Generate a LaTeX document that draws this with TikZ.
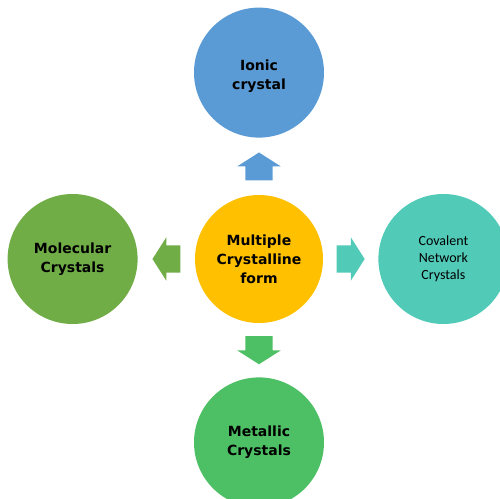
\documentclass[tikz,border=0pt]{standalone}
\usepackage{fontspec}
\setmainfont{DejaVu Sans}
\newfontfamily\calfont{Carlito}
\usepackage{xcolor}
\usetikzlibrary{positioning, shapes.arrows}

\definecolor{ionicblue}{HTML}{5B9BD5}
\definecolor{coreorange}{HTML}{FFC000}
\definecolor{covteal}{HTML}{52CAB8}
\definecolor{metalgreen}{HTML}{4DBF64}
\definecolor{molgreen}{HTML}{70AD47}

\begin{document}
\begin{tikzpicture}[
    node distance=57pt,
    bubble/.style={circle, minimum size=130pt, inner sep=0pt, align=center,
        font=\bfseries\fontsize{14}{19}\selectfont},
    blockarrow/.style={single arrow, minimum height=28pt, minimum width=43pt,
        inner xsep=0pt, inner ysep=13.5pt, single arrow head extend=8pt,
        single arrow tip angle=115}
]
    \clip (-259pt,-239pt) rectangle (241pt,259pt);
    \node (core) [bubble, fill=coreorange, minimum size=128pt] {Multiple\\Crystalline\\form};
    \node (ionic) [bubble, fill=ionicblue, above=of core] {\rule{0pt}{18pt}Ionic\\crystal};
    \node (molecular) [bubble, fill=molgreen, left=of core] {Molecular\\Crystals};
    \node (covalent) [bubble, fill=covteal, right=55pt of core,
        font=\calfont\fontsize{14}{17}\selectfont] {Covalent\\Network\\Crystals};
    \node (metallic) [bubble, fill=metalgreen, below=54pt of core] {Metallic\\Crystals};
    % block arrows between the bubbles
    \path (core.north) -- (ionic.south)
        node[pos=0.42, blockarrow, fill=ionicblue, rotate=90] (toIonic) {};
    \path (core.west) -- (molecular.east)
        node[pos=0.42, blockarrow, fill=molgreen, rotate=180] (toMolecular) {};
    \path (core.east) -- (covalent.west)
        node[pos=0.42, blockarrow, fill=covteal] (toCovalent) {};
    \path (core.south) -- (metallic.north)
        node[pos=0.42, blockarrow, fill=metalgreen, rotate=-90] (toMetallic) {};
\end{tikzpicture}
\end{document}
